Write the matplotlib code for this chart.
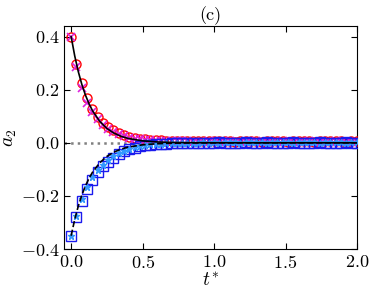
import numpy as np
import matplotlib
matplotlib.use("Agg")
import matplotlib.pyplot as plt

plt.rcParams["font.family"] = "serif"
plt.rcParams["font.serif"] = ["cmr10"]
plt.rcParams["mathtext.fontset"] = "cm"
plt.rcParams["axes.formatter.use_mathtext"] = True
plt.rcParams["font.size"] = 13

# simulation times (step ~0.037)
t_sim = [0.000, 0.037, 0.074, 0.111, 0.148, 0.185, 0.222, 0.259, 0.296, 0.333,
         0.370, 0.407, 0.444, 0.481, 0.518, 0.555, 0.592, 0.629, 0.666, 0.703,
         0.740, 0.777, 0.814, 0.851, 0.888, 0.925, 0.962, 0.999, 1.036, 1.073,
         1.110, 1.147, 1.184, 1.221, 1.258, 1.295, 1.332, 1.369, 1.406, 1.443,
         1.480, 1.517, 1.554, 1.591, 1.628, 1.665, 1.702, 1.739, 1.776, 1.813,
         1.850, 1.887, 1.924, 1.961, 1.998]

a2_pos_circ = [0.400, 0.298, 0.226, 0.167, 0.129, 0.097, 0.076, 0.061, 0.047, 0.038, 0.029, 0.023, 0.018,
               0.015, 0.013, 0.011, 0.010, 0.009, 0.008, 0.008, 0.007, 0.007, 0.006, 0.006, 0.006,
               0.005, 0.006, 0.005, 0.005, 0.006, 0.005, 0.004, 0.005, 0.006, 0.005, 0.005, 0.004,
               0.005, 0.006, 0.005, 0.005, 0.004, 0.005, 0.005, 0.006, 0.005, 0.004, 0.005, 0.005,
               0.006, 0.005, 0.005, 0.004, 0.005, 0.006]
a2_pos_x = [0.400, 0.285, 0.205, 0.150, 0.115, 0.088, 0.068, 0.053, 0.042, 0.033, 0.026, 0.020, 0.016,
            0.013, 0.011, 0.009, 0.008, 0.007, 0.006, 0.006, 0.005, 0.005, 0.005, 0.004, 0.004,
            0.004, 0.005, 0.004, 0.003, 0.004, 0.005, 0.004, 0.004, 0.003, 0.004, 0.005, 0.004,
            0.003, 0.004, 0.004, 0.005, 0.004, 0.003, 0.004, 0.004, 0.005, 0.004, 0.003, 0.004,
            0.004, 0.005, 0.004, 0.004, 0.003, 0.004]
a2_neg_sq = [-0.350, -0.280, -0.220, -0.175, -0.140, -0.111, -0.089, -0.072, -0.056, -0.043, -0.031, -0.024, -0.018,
             -0.013, -0.010, -0.007, -0.005, -0.004, -0.003, -0.002, -0.001, -0.001, 0.000, 0.000, 0.001,
             0.001, 0.000, 0.001, 0.002, 0.001, 0.000, 0.001, 0.001, 0.002, 0.001, 0.000, 0.001,
             0.002, 0.001, 0.001, 0.000, 0.001, 0.002, 0.001, 0.001, 0.000, 0.001, 0.002, 0.001,
             0.001, 0.000, 0.001, 0.002, 0.001, 0.001]
a2_neg_star = [-0.350, -0.275, -0.210, -0.165, -0.130, -0.103, -0.082, -0.065, -0.051, -0.040, -0.030, -0.023, -0.017,
               -0.012, -0.009, -0.006, -0.004, -0.003, -0.002, -0.001, 0.000, 0.000, 0.001, 0.001, 0.001,
               0.002, 0.001, 0.002, 0.001, 0.002, 0.003, 0.002, 0.001, 0.002, 0.002, 0.003, 0.002,
               0.001, 0.002, 0.002, 0.003, 0.002, 0.001, 0.002, 0.002, 0.003, 0.002, 0.001, 0.002,
               0.002, 0.003, 0.002, 0.001, 0.002, 0.002]

# theory curves
t_th = [0.0, 0.025, 0.05, 0.075, 0.1, 0.125, 0.15, 0.2, 0.25, 0.3, 0.35, 0.4,
        0.5, 0.6, 0.7, 0.8, 1.0, 1.2, 1.5, 2.0]
a2_th_pos = [0.400, 0.3275, 0.2681, 0.2195, 0.1797, 0.1472, 0.1205, 0.0808, 0.0541, 0.0363,
             0.0243, 0.0163, 0.0073, 0.0033, 0.0015, 0.0007, 0.0001, 0.0, 0.0, 0.0]
a2_th_neg = [-0.350, -0.2888, -0.2383, -0.1966, -0.1622, -0.1338, -0.1104, -0.0752, -0.0512, -0.0348,
             -0.0237, -0.0161, -0.0075, -0.0035, -0.0016, -0.0007, -0.0002, 0.0, 0.0, 0.0]

fig = plt.figure(figsize=(3.74, 2.95), dpi=100)
ax = fig.add_axes([64/374, 46/295, 293/374, 223/295])

ax.axhline(0.0, color="gray", ls=":", lw=1.8, zorder=1)
ax.plot(t_sim, a2_pos_circ, "o", mfc="none", mec="red", ms=6.5, mew=1.0, zorder=3)
ax.plot(t_sim, a2_pos_x, "x", color="#dd22dd", ms=5.5, mew=1.2, zorder=3)
ax.plot(t_sim, a2_neg_sq, "s", mfc="none", mec="#1a1aee", ms=6.5, mew=1.0, zorder=3)
ax.plot(t_sim, a2_neg_star, "*", color="#3399ff", ms=5, zorder=3)
ax.plot(t_th, a2_th_pos, "k-", lw=1.2, zorder=4)
ax.plot(t_th, a2_th_neg, "k--", lw=1.2, zorder=4)

ax.set_xlim(-0.05, 2.0)
ax.set_ylim(-0.4, 0.44)
ax.set_xticks([0.0, 0.5, 1.0, 1.5, 2.0])
ax.set_yticks([-0.4, -0.2, 0.0, 0.2, 0.4])
ax.tick_params(direction="in", top=True, right=True, length=4, labelsize=13)
ax.set_xlabel("$t^{*}$", fontsize=14, labelpad=1)
ax.set_ylabel("$a_2$", fontsize=14)
ax.yaxis.set_label_coords(-0.155, 0.5)
ax.set_title("(c)", fontsize=13, pad=4)

fig.savefig("out.png", dpi=100)
